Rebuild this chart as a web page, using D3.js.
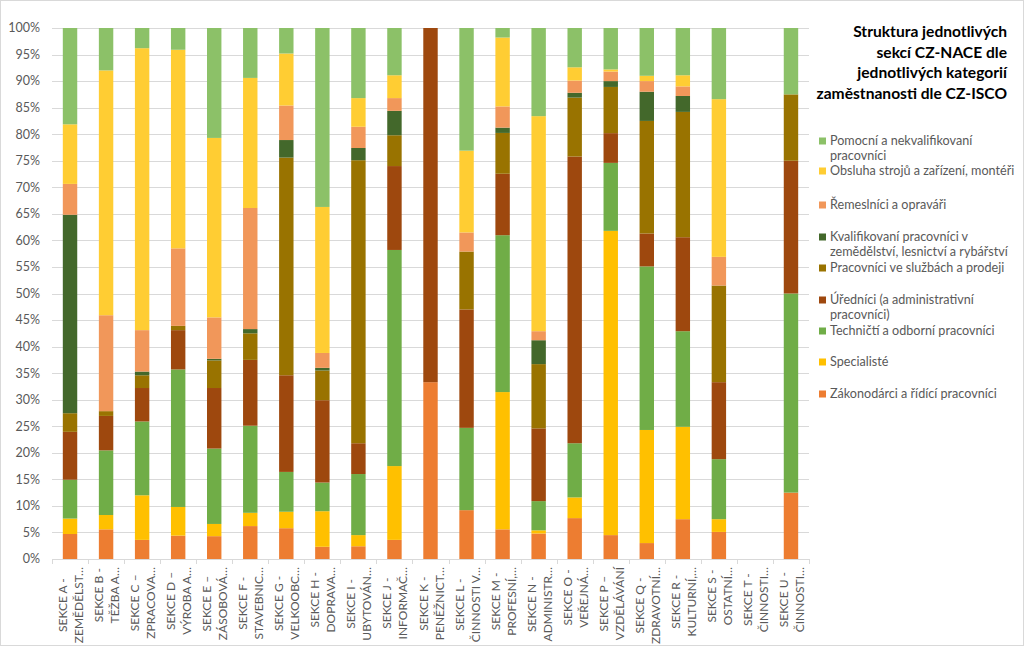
<!DOCTYPE html>
<html><head><meta charset="utf-8">
<script src="https://cdn.jsdelivr.net/npm/d3@7"></script>
<style>body{margin:0;background:#fff}svg{display:block}</style>
</head><body>
<svg id="c" width="1024" height="647"></svg>
<script>
const categories = ["A","B","C","D","E","F","G","H","I","J","K","L","M","N","O","P","Q","R","S","T","U"];
const labelLine1 = ["SEKCE A -","SEKCE B -","SEKCE C –","SEKCE D –","SEKCE E –","SEKCE F -","SEKCE G -","SEKCE H -","SEKCE I -","SEKCE J -","SEKCE K -","SEKCE L -","SEKCE M -","SEKCE N -","SEKCE O -","SEKCE P –","SEKCE Q -","SEKCE R -","SEKCE S -","SEKCE T -","SEKCE U -"];
const labelLine2 = ["ZEMĚDĚLST…","TĚŽBA A…","ZPRACOVA…","VÝROBA A…","ZÁSOBOVÁ…","STAVEBNIC…","VELKOOBC…","DOPRAVA…","UBYTOVÁN…","INFORMAČ…","PENĚŽNICT…","ČINNOSTI V…","PROFESNÍ,…","ADMINISTR…","VEŘEJNÁ…","VZDĚLÁVÁNÍ","ZDRAVOTNÍ…","KULTURNÍ,…","OSTATNÍ…","ČINNOSTI…","ČINNOSTI…"];

const zakonodarci = [4.7,5.6,3.6,4.4,4.3,6.2,5.8,2.3,2.4,3.6,33.3,9.2,5.6,4.8,7.7,4.5,3.0,7.5,5.1,0,12.5];
const specialiste = [2.9,2.7,8.4,5.4,2.3,2.5,3.1,6.7,2.1,13.9,0,0,25.9,0.6,3.9,57.3,21.3,17.4,2.4,0,0];
const technicti   = [7.3,12.2,13.9,25.9,14.2,16.4,7.5,5.4,11.5,40.7,0,15.5,29.6,5.5,10.2,12.8,30.8,18.0,11.3,0,37.5];
const urednici    = [9.0,6.5,6.3,7.4,11.4,12.4,18.2,15.5,5.8,15.8,66.7,22.3,11.6,13.7,54.0,5.6,6.2,17.7,14.5,0,25.0];
const sluzby      = [3.5,0.9,2.4,0.8,5.2,5.0,41.0,5.6,53.3,5.8,0,10.9,7.7,12.1,11.1,8.7,21.2,23.6,18.2,0,12.5];
const kvalifikovani = [37.3,0,0.7,0,0.3,0.8,3.3,0.5,2.3,4.6,0,0,1.0,4.5,0.9,1.1,5.5,3.0,0,0,0];
const remeslnici  = [5.8,18.1,7.8,14.6,7.8,22.8,6.5,2.8,4.0,2.4,0,3.6,4.0,1.7,2.3,1.8,2.0,1.8,5.4,0,0];
const obsluha     = [11.2,46.2,53.1,37.4,33.8,24.5,9.8,27.5,5.4,4.3,0,15.4,13.0,40.5,2.5,0.4,1.0,2.1,29.7,0,0];
const pomocni     = [18.1,8.0,3.8,4.1,20.7,9.4,4.8,33.7,13.2,8.9,0,23.1,1.8,16.6,7.4,7.8,9.0,8.9,13.4,0,12.5];

const seriesNames = ["Zákonodárci a řídící pracovníci","Specialisté","Techničtí a odborní pracovníci","Úředníci (a administrativní pracovníci)","Pracovníci ve službách a prodeji","Kvalifikovaní pracovníci v zemědělství, lesnictví a rybářství","Řemeslníci a opraváři","Obsluha strojů a zařízení, montéři","Pomocní a nekvalifikovaní pracovníci"];
const seriesValues = [zakonodarci,specialiste,technicti,urednici,sluzby,kvalifikovani,remeslnici,obsluha,pomocni];
const legendLines = [["Zákonodárci a řídící pracovníci"],["Specialisté"],["Techničtí a odborní pracovníci"],["Úředníci (a administrativní","pracovníci)"],["Pracovníci ve službách a prodeji"],["Kvalifikovaní pracovníci v","zemědělství, lesnictví a rybářství"],["Řemeslníci a opraváři"],["Obsluha strojů a zařízení, montéři"],["Pomocní a nekvalifikovaní","pracovníci"]];
const titleLines = ["Struktura jednotlivých","sekcí CZ-NACE dle","jednotlivých kategorií","zaměstnanosti dle CZ-ISCO"];
const yTicks = d3.range(0, 1.0001, 0.05);

const colors = ["#ED7D31","#FFC000","#70AD47","#9E480E","#997300","#43682B","#F1975A","#FFCD33","#8CC168"];
const font = "Lato, 'Open Sans', sans-serif";
const svg = d3.select("#c");
svg.append("rect").attr("x",0.5).attr("y",0.5).attr("width",1023).attr("height",645).attr("fill","#fff").attr("stroke","#d9d9d9");

const plot = {l:52, r:809, t:28, b:559};
const x = d3.scaleBand().domain(categories).range([plot.l, plot.r]).paddingInner(0.6).paddingOuter(0.3);
const y = d3.scaleLinear().domain([0,1]).range([plot.b, plot.t]);

const rows = categories.map((c,i)=>{const o={cat:c}; seriesValues.forEach((s,j)=>o["s"+j]=s[i]); return o;});
const stack = d3.stack().keys(seriesValues.map((s,j)=>"s"+j)).offset(d3.stackOffsetExpand);
const stacked = stack(rows);

// gridlines
svg.append("g").selectAll("line").data(yTicks).join("line")
  .attr("x1",plot.l).attr("x2",plot.r)
  .attr("y1",d=>Math.round(y(d))+0.5).attr("y2",d=>Math.round(y(d))+0.5)
  .attr("stroke","#d9d9d9").attr("stroke-width",1);

// y labels
svg.append("g").selectAll("text").data(yTicks).join("text")
  .attr("x",40).attr("y",d=>y(d)).attr("dy","0.35em").attr("text-anchor","end")
  .attr("font-family",font).attr("font-size",12.5).attr("fill","#595959")
  .text(d=>d3.format(".0%")(d));

// bars
svg.append("g").selectAll("g").data(stacked).join("g")
  .attr("fill",(d,i)=>colors[i])
  .selectAll("rect").data(d=>d).join("rect")
  .attr("x",d=>x(d.data.cat)).attr("width",x.bandwidth())
  .attr("y",d=>y(isNaN(d[1])?0:d[1])).attr("height",d=>isNaN(d[1])?0:Math.max(0,y(d[0])-y(d[1])));

// x axis line and ticks
const step = x.step();
svg.append("line").attr("x1",plot.l).attr("x2",plot.r).attr("y1",plot.b+0.5).attr("y2",plot.b+0.5).attr("stroke","#d9d9d9");
svg.append("g").selectAll("line").data(d3.range(categories.length+1)).join("line")
  .attr("x1",i=>Math.round(plot.l+i*step)+0.5).attr("x2",i=>Math.round(plot.l+i*step)+0.5)
  .attr("y1",plot.b).attr("y2",plot.b+5).attr("stroke","#d9d9d9");

// x labels
const xl = svg.append("g");
categories.forEach((c,i)=>{
  const cx = x(c)+x.bandwidth()/2;
  const g = xl.append("g");
  const t1 = g.append("text").text(labelLine1[i]);
  const t2 = g.append("text").text(labelLine2[i]);
  [t1,t2].forEach(t=>t.attr("font-family",font).attr("font-size",12).attr("fill","#595959").attr("text-anchor","middle"));
  const L = Math.max(t1.node().getComputedTextLength(), t2.node().getComputedTextLength());
  const cy = 567 + L/2;
  t1.attr("transform",`translate(${cx-3},${cy}) rotate(-90)`);
  t2.attr("transform",`translate(${cx+13},${cy}) rotate(-90)`);
});

// title
svg.append("g").selectAll("text").data(titleLines).join("text")
  .attr("x",1007).attr("y",(d,i)=>32+i*20.5).attr("dy","0.35em").attr("text-anchor","end")
  .attr("font-family",font).attr("font-weight","bold").attr("font-size",15.6).attr("fill","#000")
  .text(d=>d);

// legend (reverse order, top = last series)
const legendOrder = d3.range(seriesNames.length).reverse();
const legendTop = [141,171,205,237,268,300,331,362,394];
const lg = svg.append("g");
legendOrder.forEach((si,k)=>{
  const yy = legendTop[k];
  lg.append("rect").attr("x",819).attr("y",yy-3.5).attr("width",7).attr("height",7).attr("fill",colors[si]);
  legendLines[si].forEach((ln,j)=>{
    lg.append("text").attr("x",830).attr("y",yy+j*15).attr("dy","0.35em")
      .attr("font-family",font).attr("font-size",12.6).attr("fill","#595959").text(ln);
  });
});
</script>
</body></html>
